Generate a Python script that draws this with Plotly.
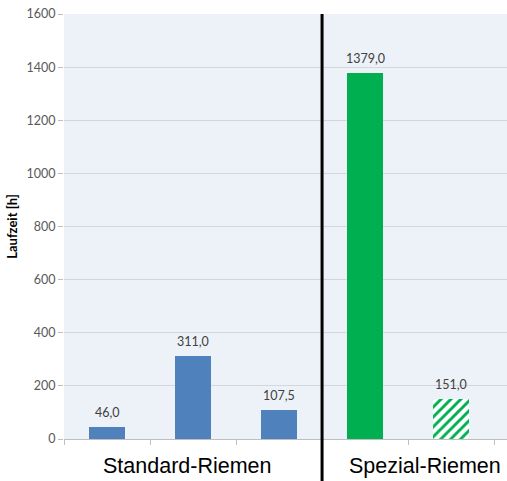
import plotly.graph_objects as go

# Laufzeit der Riemen-Varianten in Stunden
solid_positions = [0, 1, 2, 3]
solid_values = [46.0, 311.0, 107.5, 1379.0]
solid_colors = ["#4f81bd", "#4f81bd", "#4f81bd", "#00b050"]
hatched_positions = [4]
hatched_values = [151.0]
hatch_color = "#00b050"
group_labels = ["Standard-Riemen", "Spezial-Riemen"]
group_positions = [0.93, 3.7]
y_ticks = [0, 200, 400, 600, 800, 1000, 1200, 1400, 1600]

fmt = lambda v: f"{v:.1f}".replace(".", ",")

fig = go.Figure()
fig.add_trace(go.Bar(
    x=solid_positions,
    y=solid_values,
    width=0.41,
    marker=dict(color=solid_colors, line=dict(width=0)),
    hoverinfo="skip",
))
fig.add_trace(go.Bar(
    x=hatched_positions,
    y=hatched_values,
    width=0.41,
    marker=dict(
        color="#ffffff",
        line=dict(width=0),
        pattern=dict(shape="/", fgcolor=hatch_color, fgopacity=1, fillmode="overlay",
                     size=7, solidity=0.42),
    ),
    hoverinfo="skip",
))

# Wertbeschriftungen über den Balken
for x, v in zip(solid_positions + hatched_positions, solid_values + hatched_values):
    fig.add_annotation(
        x=x, y=v, text=fmt(v), showarrow=False, yanchor="bottom", yshift=5,
        font=dict(family="Lato, 'Open Sans', sans-serif", size=12.5, color="#404040"),
    )

# Gruppenbeschriftungen unterhalb der Achse
for x, t in zip(group_positions, group_labels):
    fig.add_annotation(
        x=x, y=0, yref="y", text=t, showarrow=False, yanchor="top", yshift=-13,
        font=dict(family="Liberation Sans, Arial, sans-serif", size=21.5, color="#000000"),
    )

# Trennlinie zwischen Standard- und Spezial-Riemen
fig.add_shape(
    type="line", xref="x", yref="paper", x0=2.5, x1=2.5, y0=-0.1, y1=1.0,
    line=dict(color="#000000", width=3),
)

fig.update_layout(
    width=507, height=481,
    margin=dict(l=64, r=0, t=14, b=42),
    paper_bgcolor="#ffffff",
    plot_bgcolor="#edf1f8",
    showlegend=False,
    barmode="overlay",
    bargap=0,
)
fig.update_xaxes(
    range=[-0.5, 4.65],
    tickvals=[-0.5, 0.5, 1.5, 2.5, 3.5, 4.5],
    ticktext=["", "", "", "", "", ""],
    ticks="outside", ticklen=5, tickcolor="#bfbfbf",
    showgrid=False, zeroline=False,
    showline=True, linecolor="#bfbfbf", linewidth=1,
)
fig.update_yaxes(
    range=[0, 1600],
    tickvals=y_ticks,
    ticks="outside", ticklen=5, tickcolor="#bfbfbf",
    tickfont=dict(family="Lato, 'Open Sans', sans-serif", size=12.5, color="#595959"),
    showgrid=True, gridcolor="#d3d7dc", gridwidth=1,
    zeroline=False, showline=False,
    title=dict(text="<b>Laufzeit [h]</b>", standoff=5,
               font=dict(family="Lato, 'Open Sans', sans-serif", size=13, color="#000000")),
)

fig.write_html("out.html")
